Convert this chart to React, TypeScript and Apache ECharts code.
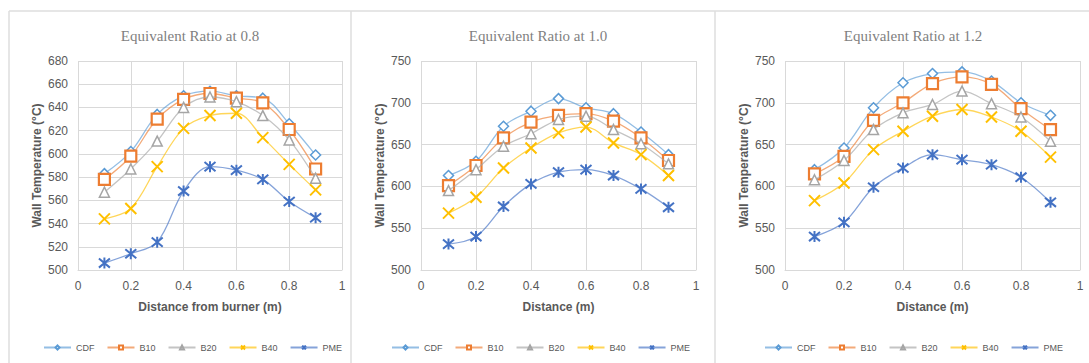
import React, { useEffect, useRef } from "react";
import * as echarts from "echarts";

const distances = [0.1, 0.2, 0.3, 0.4, 0.5, 0.6, 0.7, 0.8, 0.9];
const seriesNames = ["CDF", "B10", "B20", "B40", "PME"];
const titles = ["Equivalent Ratio at 0.8", "Equivalent Ratio at 1.0", "Equivalent Ratio at 1.2"];
const xTitles = ["Distance from burner (m)", "Distance (m)", "Distance (m)"];
const yRanges = [
  { min: 500, max: 680, interval: 20 },
  { min: 500, max: 750, interval: 50 },
  { min: 500, max: 750, interval: 50 },
];

// Equivalent ratio 0.8
const r08CDF = [583, 602, 634, 650, 654, 650, 648, 626, 599];
const r08B10 = [578, 598, 630, 647, 652, 648, 644, 621, 587];
const r08B20 = [567, 587, 611, 640, 649, 645, 633, 612, 579];
const r08B40 = [544, 553, 589, 622, 633, 635, 614, 591, 569];
const r08PME = [506, 514, 524, 568, 589, 586, 578, 559, 545];

// Equivalent ratio 1.0
const r10CDF = [613, 630, 672, 690, 705, 694, 687, 665, 638];
const r10B10 = [601, 625, 658, 677, 685, 687, 678, 658, 631];
const r10B20 = [595, 620, 648, 663, 680, 684, 668, 651, 627];
const r10B40 = [568, 587, 622, 646, 664, 671, 652, 638, 613];
const r10PME = [531, 540, 576, 603, 617, 620, 613, 597, 575];

// Equivalent ratio 1.2
const r12CDF = [620, 646, 694, 724, 735, 737, 726, 700, 685];
const r12B10 = [615, 636, 679, 700, 723, 731, 722, 693, 668];
const r12B20 = [608, 631, 668, 688, 698, 714, 699, 683, 654];
const r12B40 = [583, 604, 644, 666, 684, 692, 683, 666, 635];
const r12PME = [540, 557, 599, 622, 638, 632, 626, 611, 581];

const panels = [
  [r08CDF, r08B10, r08B20, r08B40, r08PME],
  [r10CDF, r10B10, r10B20, r10B40, r10PME],
  [r12CDF, r12B10, r12B20, r12B40, r12PME],
];

const colors = ["#5B9BD5", "#ED7D31", "#A5A5A5", "#FFC000", "#4472C4"];
const symbols = [
  "diamond",
  "rect",
  "triangle",
  "path://M0,0L10,10M10,0L0,10",
  "path://M0,0L10,10M10,0L0,10M5,-1L5,11",
];
const symbolSizes = [10, 11, 10, 11, 11];
const borderWidths = [1.5, 2.2, 1.5, 2, 2];

const grids = [
  { left: 78, width: 264, top: 61, height: 209 },
  { left: 421, width: 275, top: 61, height: 209 },
  { left: 785, width: 295, top: 61, height: 209 },
];
const titleCenters = [185, 533, 908];
const legendLefts = [38, 386, 759];

const FONT = "Liberation Sans, Arial, sans-serif";

export default function App() {
  const ref = useRef<HTMLDivElement>(null);
  useEffect(() => {
    if (!ref.current) return;
    const chart = echarts.init(ref.current, null, { renderer: "svg" });
    const series: any[] = [];
    panels.forEach((panel, p) => {
      panel.forEach((vals, s) => {
        series.push({
          type: "line",
          name: seriesNames[s],
          xAxisIndex: p,
          yAxisIndex: p,
          data: distances.map((d, i) => [d, vals[i]]),
          smooth: 0.35,
          symbol: symbols[s],
          symbolSize: symbolSizes[s],
          showSymbol: true,
          lineStyle: { color: colors[s], width: 1.3, opacity: 0.65 },
          itemStyle: {
            color: s >= 3 ? colors[s] : "#ffffff",
            borderColor: colors[s],
            borderWidth: borderWidths[s],
          },
          z: 2 + s,
        });
      });
    });
    const option: any = {
      animation: false,
      backgroundColor: "#ffffff",
      title: titles.map((t, i) => ({
        text: t,
        left: titleCenters[i],
        top: 23,
        textAlign: "center",
        textStyle: {
          fontFamily: "Liberation Serif, Times New Roman, serif",
          fontSize: 15,
          fontWeight: "normal",
          color: "#7F7F7F",
        },
      })),
      legend: [0, 1, 2].map((i) => ({
        data: seriesNames,
        left: legendLefts[i],
        top: 338,
        width: 330,
        itemWidth: 27,
        itemHeight: 5,
        itemGap: 12,
        textStyle: { fontFamily: FONT, fontSize: 9, color: "#595959" },
        selectedMode: false,
      })),
      grid: grids.map((g) => ({ ...g, containLabel: false })),
      xAxis: [0, 1, 2].map((i) => ({
        type: "value",
        gridIndex: i,
        min: 0,
        max: 1,
        interval: 0.2,
        name: xTitles[i],
        nameLocation: "middle",
        nameGap: 31,
        nameTextStyle: { fontFamily: FONT, fontSize: 12, fontWeight: "bold", color: "#595959" },
        axisLine: { show: true, lineStyle: { color: "#D9D9D9", width: 1 } },
        axisTick: { show: false },
        axisLabel: {
          fontFamily: FONT,
          fontSize: 12,
          color: "#595959",
          margin: 10,
          formatter: (v: number) => String(Math.round(v * 10) / 10),
        },
        splitLine: { show: true, lineStyle: { color: "#D9D9D9", width: 1 } },
      })),
      yAxis: [0, 1, 2].map((i) => ({
        type: "value",
        gridIndex: i,
        min: yRanges[i].min,
        max: yRanges[i].max,
        interval: yRanges[i].interval,
        name: "Wall Temperature (°C)",
        nameLocation: "middle",
        nameGap: 35,
        nameTextStyle: { fontFamily: FONT, fontSize: 12, fontWeight: "bold", color: "#595959" },
        axisLine: { show: false },
        axisTick: { show: false },
        axisLabel: { fontFamily: FONT, fontSize: 12, color: "#595959", margin: 10 },
        splitLine: { show: true, lineStyle: { color: "#D9D9D9", width: 1 } },
      })),
      graphic: [
        { type: "line", shape: { x1: 9, y1: 11, x2: 1089, y2: 11 }, style: { stroke: "#DEDEDE", lineWidth: 1.5 }, silent: true },
        { type: "line", shape: { x1: 9, y1: 11, x2: 9, y2: 363 }, style: { stroke: "#DEDEDE", lineWidth: 1.5 }, silent: true },
        { type: "line", shape: { x1: 351, y1: 11, x2: 351, y2: 363 }, style: { stroke: "#DEDEDE", lineWidth: 1.5 }, silent: true },
        { type: "line", shape: { x1: 715, y1: 11, x2: 715, y2: 363 }, style: { stroke: "#DEDEDE", lineWidth: 1.5 }, silent: true },
      ],
      series,
    };
    chart.setOption(option);
    return () => chart.dispose();
  }, []);
  return (
    <div
      ref={ref}
      style={{ position: "fixed", left: 0, top: 0, width: 1089, height: 363, background: "#fff" }}
    />
  );
}
